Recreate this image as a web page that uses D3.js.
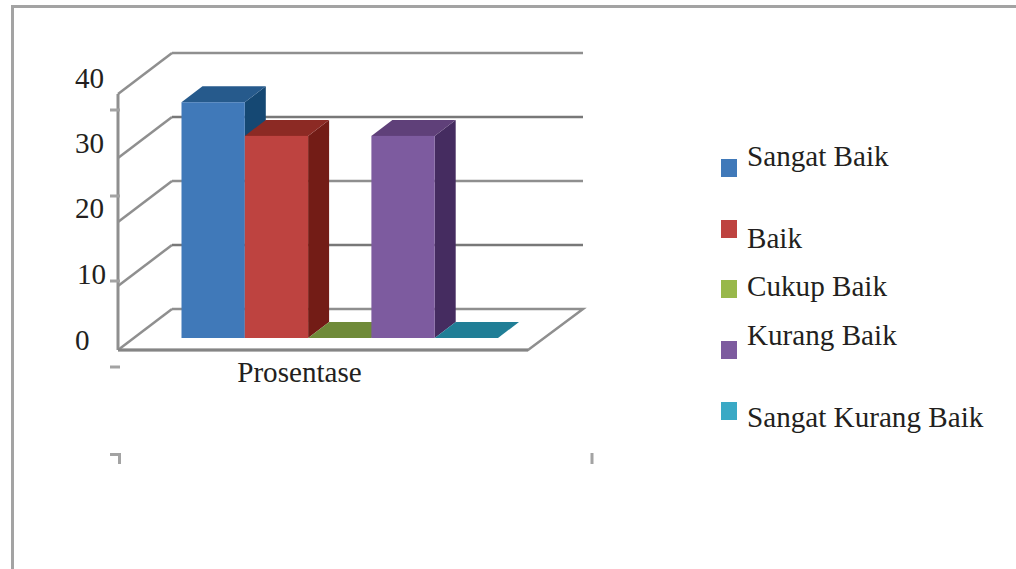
<!DOCTYPE html>
<html>
<head>
<meta charset="utf-8">
<script src="https://cdn.jsdelivr.net/npm/d3@7/dist/d3.min.js"></script>
<style>
  html, body { margin: 0; padding: 0; background: #fff; }
  svg { display: block; }
  text { font-family: "Liberation Serif", serif; font-size: 29.15px; fill: #231f20; }
</style>
</head>
<body>
<svg id="chart" width="1016" height="569"></svg>
<script>
// Percentage of responses per rating, one series per rating.
const seriesNames = ["Sangat Baik", "Baik", "Cukup Baik", "Kurang Baik", "Sangat Kurang Baik"];
const seriesValues = [36.84, 31.58, 0, 31.58, 0];
const categoryLabel = "Prosentase";
const axisTicks = [0, 10, 20, 30, 40];

const frontColors = ["#4079b9", "#be4340", "#98b84a", "#7d5b9f", "#3aa9c5"];
const topColors = ["#265a8c", "#8c2a24", "#6f8a39", "#5f4079", "#207e96"];
const sideColors = ["#154873", "#731c16", "#586e2c", "#452c60", "#186577"];
const legendBaselines = [166, 248, 296, 345, 427];
const legendSwatchTops = [159, 220, 280, 341, 402];
const axisLabelBaselines = [350, 284, 218, 153, 88];
const axisLabelLefts = [75, 77, 75, 75, 75];
const stubTicks = [110, 196, 281, 367];

const svg = d3.select("#chart");
const gridColor = "#8f8f8f";

// Depth offset of the box and of the bars within it.
const wallDepth = { x: 54, y: -41 };
const barDepth = { x: 21, y: -16 };

const y = d3.scaleLinear().domain([0, 40]).range([350, 94]);
const barBase = 338;
const barScale = d3.scaleLinear().domain([0, 40]).range([barBase, barBase - 256]);
const xBand = d3.scaleBand().domain(seriesNames).range([181.5, 498]);

const line = (a, b, c, w) => svg.append("line")
  .attr("x1", a[0]).attr("y1", a[1]).attr("x2", b[0]).attr("y2", b[1])
  .attr("stroke", c || gridColor).attr("stroke-width", w || 2.5);

// Page frame
svg.append("path").attr("d", "M12.5 569V6.5H1016").attr("fill", "none")
  .attr("stroke", "#a3a3a3").attr("stroke-width", 3);

// Back wall gridlines and left wall diagonals
axisTicks.forEach(t => {
  const yy = y(t);
  line([118, yy], [118 + wallDepth.x, yy + wallDepth.y]);
  if (t !== 0) line([118 + wallDepth.x, yy + wallDepth.y], [583, yy + wallDepth.y], t === 30 || t === 10 ? "#787878" : gridColor);
});
line([118, y(40)], [118, y(0)], gridColor, 3);

// Floor outline
svg.append("path")
  .attr("d", d3.line()([[118, y(0)], [528, y(0)], [528 + 55, y(0) + wallDepth.y], [118 + wallDepth.x, y(0) + wallDepth.y]]))
  .attr("fill", "none").attr("stroke", gridColor).attr("stroke-width", 2.5);
line([118, y(0)], [528, y(0)], "#858585", 3);

// Stub marks beside the axis
stubTicks.forEach(s => line([110, s], [120, s], "#a3a3a3", 3));

// Corner marks under the plot
svg.append("path").attr("d", "M110 454.5H119.5V464").attr("fill", "none").attr("stroke", "#a3a3a3").attr("stroke-width", 3);
line([592, 453], [592, 464], "#a3a3a3", 3);

// 3D bars: side, top, then front face, left to right
const bars = seriesNames.map((name, i) => ({ name, i, value: seriesValues[i] }));
const g = svg.append("g");
bars.forEach(d => {
  const x0 = xBand(d.name), x1 = x0 + xBand.bandwidth();
  const top = barScale(d.value);
  const dx = barDepth.x, dy = barDepth.y;
  const group = g.append("g");
  group.append("polygon")
    .attr("points", [[x1, top], [x1 + dx, top + dy], [x1 + dx, barBase + dy], [x1, barBase]].join(" "))
    .attr("fill", sideColors[d.i]);
  group.append("polygon")
    .attr("points", [[x0, top], [x1, top], [x1 + dx, top + dy], [x0 + dx, top + dy]].join(" "))
    .attr("fill", topColors[d.i]);
  group.append("rect")
    .attr("x", x0).attr("y", top).attr("width", x1 - x0).attr("height", barBase - top)
    .attr("fill", frontColors[d.i]);
});

// Axis labels
axisTicks.forEach((t, i) => {
  svg.append("text").attr("x", axisLabelLefts[i]).attr("y", axisLabelBaselines[i]).text(t);
});
svg.append("text").attr("x", 299.5).attr("y", 382).attr("text-anchor", "middle").text(categoryLabel);

// Legend
seriesNames.forEach((name, i) => {
  svg.append("rect").attr("x", 721).attr("y", legendSwatchTops[i]).attr("width", 16).attr("height", 18).attr("fill", frontColors[i]);
  svg.append("text").attr("x", 747).attr("y", legendBaselines[i]).text(name);
});
</script>
</body>
</html>
